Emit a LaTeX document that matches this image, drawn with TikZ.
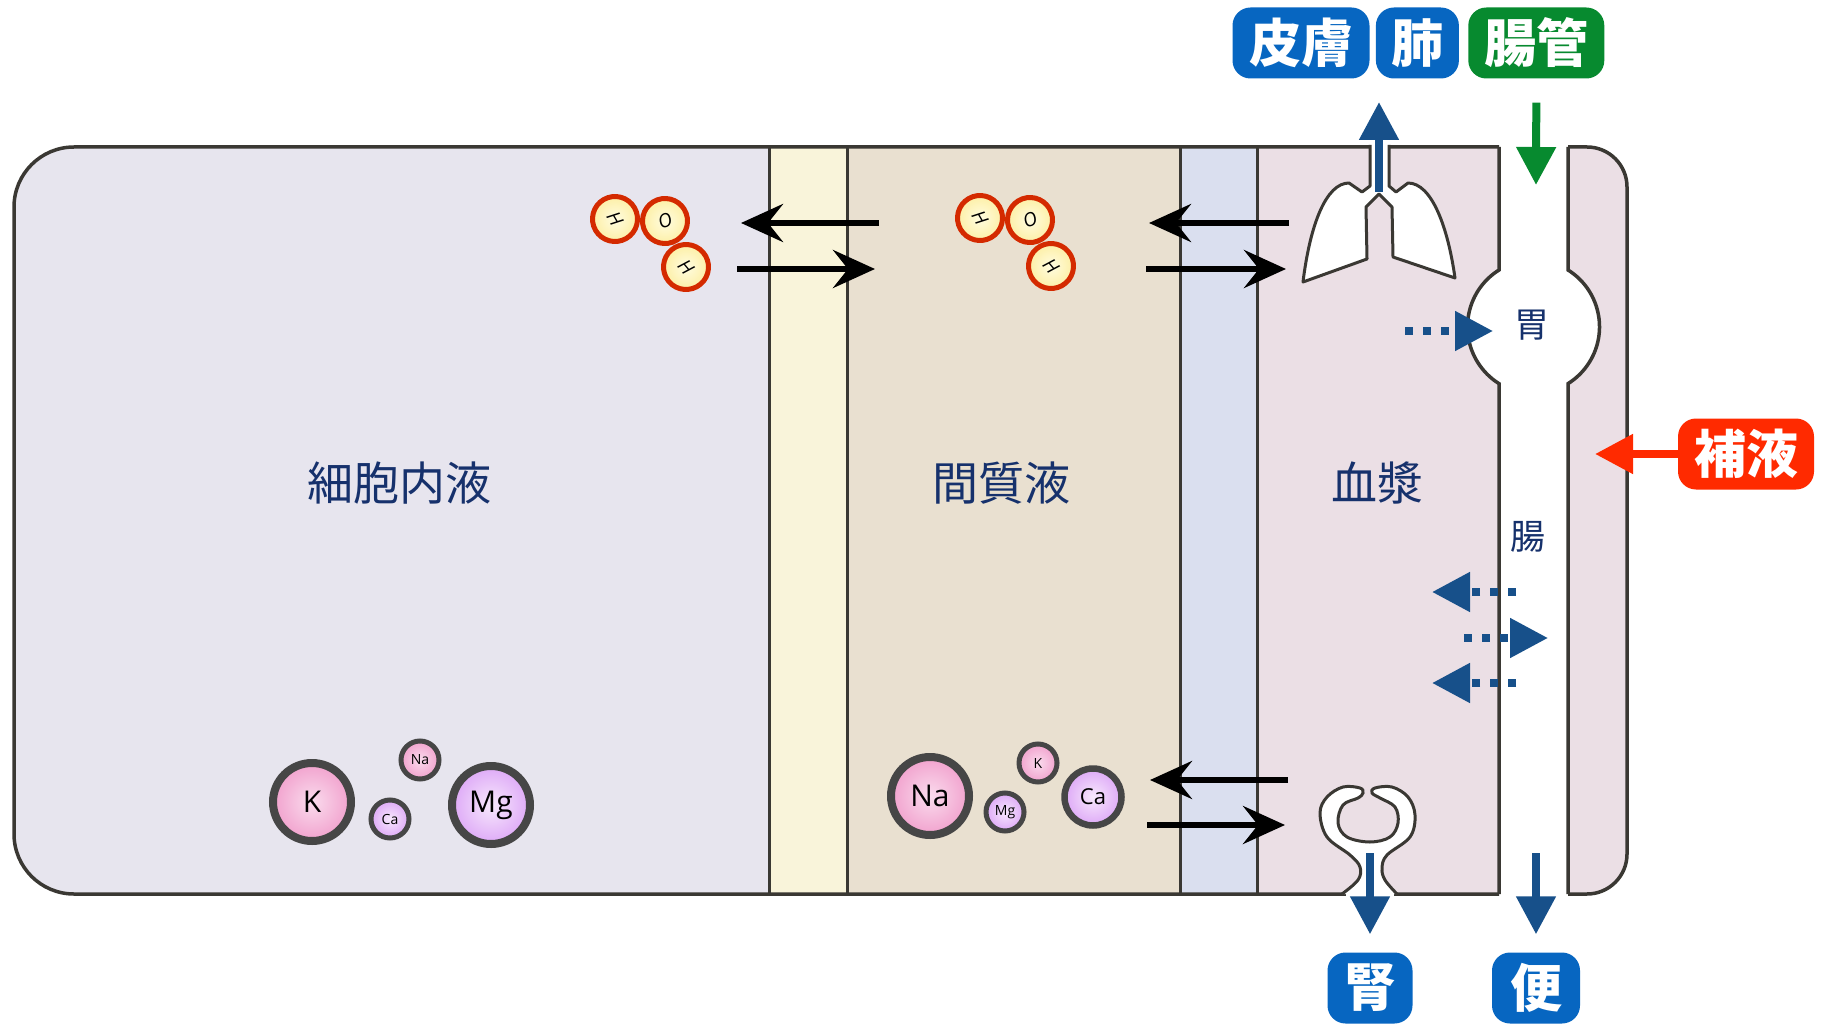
\documentclass[tikz,border=0pt]{standalone}
\usepackage{fontspec}
\setsansfont{Open Sans}
\newfontfamily\jp{Noto Sans CJK JP}
\usepackage{tikz}
\usetikzlibrary{arrows.meta,positioning}

\definecolor{cellbg}{HTML}{E7E5EE}
\definecolor{gapbg}{HTML}{F9F4DA}
\definecolor{isfbg}{HTML}{E9E0D0}
\definecolor{vesbg}{HTML}{DADFEF}
\definecolor{plbg}{HTML}{EBDFE5}
\definecolor{wallc}{HTML}{3A3833}
\definecolor{navy}{HTML}{16316C}
\definecolor{tagblue}{HTML}{0766C1}
\definecolor{taggreen}{HTML}{078A2F}
\definecolor{tagred}{HTML}{FF2A00}
\definecolor{flowblue}{HTML}{17508A}
\definecolor{molred}{HTML}{D42A00}
\definecolor{iongray}{HTML}{464646}

% ball shadings
\pgfdeclareradialshading{ionpink}{\pgfpointorigin}{rgb(0bp)=(0.98,0.86,0.93); rgb(22bp)=(0.95,0.66,0.82); rgb(50bp)=(0.87,0.40,0.64)}
\pgfdeclareradialshading{ionviolet}{\pgfpointorigin}{rgb(0bp)=(0.97,0.91,0.99); rgb(22bp)=(0.88,0.69,0.97); rgb(50bp)=(0.70,0.36,0.88)}
\pgfdeclareradialshading{molyellow}{\pgfpointorigin}{rgb(0bp)=(1,0.99,0.88); rgb(25bp)=(0.99,0.93,0.62); rgb(50bp)=(0.96,0.80,0.32)}

\begin{document}
\begin{tikzpicture}[x=1pt,y=-1pt,>=Latex,node distance=6pt,
 tag/.style={rounded corners=18pt,minimum height=71pt,inner sep=0pt,text=white,font=\jp\bfseries\fontsize{52}{56}\selectfont},
 lbl/.style={text=navy,font=\jp\fontsize{46}{50}\selectfont},
 sublbl/.style={text=navy,font=\jp\fontsize{35}{40}\selectfont},
 ion/.style={circle,draw=iongray,inner sep=0pt,shade},
 ionL/.style={ion,line width=8pt,minimum size=78pt,font=\sffamily\fontsize{30}{32}\selectfont},
 ionM/.style={ion,line width=6.5pt,minimum size=57pt,font=\sffamily\fontsize{22}{24}\selectfont},
 ionS/.style={ion,line width=5pt,minimum size=38pt,font=\sffamily\fontsize{14}{16}\selectfont},
 mol/.style={circle,draw=molred,line width=5pt,minimum size=45pt,inner sep=0pt,shade,shading=molyellow,font=\sffamily\itshape\fontsize{19}{21}\selectfont},
 wall/.style={draw=wallc,line width=3.5pt},
 organ/.style={draw=wallc,line width=3pt,fill=white,line join=round},
 xchg/.style={line width=6pt,-{Stealth[length=42pt,width=38pt,inset=15pt]}},
 flow/.style={draw=flowblue,line width=8pt,-{Triangle[length=38pt,width=38pt]}},
 seep/.style={flow,dash pattern=on 8pt off 10pt}]
\useasboundingbox (0,0) rectangle (1825,1024);

% compartments
\fill[cellbg,rounded corners=60pt] (14,147) rectangle (900,894);
\fill[gapbg] (769,147) rectangle (847,894);
\fill[isfbg] (847,147) rectangle (1180,894);
\fill[vesbg] (1180,147) rectangle (1257,894);
\fill[plbg] (1257,147) rectangle (1499,894);
\fill[plbg,rounded corners=40pt] (1530,147) rectangle (1627,894);
\fill[white] (1499,147) rectangle (1568,894);
\fill[white] (1533.5,327) circle[radius=67];

\draw[wall,rounded corners=60pt] (1499,147) -- (14,147) -- (14,894) -- (1499,894);
\foreach \x in {769,847,1180,1257}
  \draw[wall,line width=3pt] (\x,147) -- (\x,894);
\draw[wall] (1499,147) -- (1499,270) arc[start angle=238,end angle=122,radius=67] -- (1499,894);
\draw[wall] (1568,147) -- (1568,270) arc[start angle=-58,end angle=58,radius=67] -- (1568,894);
\draw[wall,rounded corners=40pt] (1568,147) -- (1627,147) -- (1627,894) -- (1568,894);

% lungs
\fill[white] (1371,143) rectangle (1388,150);
\path[organ] (1389,145) -- (1389,186) -- (1396,192) -- (1408,183)
  .. controls (1432,183) and (1448,228) .. (1455,278) -- (1393,257) -- (1392,207)
  -- (1379,194) -- (1366,207) -- (1367,259) -- (1303,282)
  .. controls (1310,225) and (1326,183) .. (1349,183) -- (1362,192) -- (1370,186) -- (1370,145);

% kidney
\fill[white] (1346,889) rectangle (1394,898);
\fill[white] plot[smooth,tension=0.6] coordinates {(1342,894) (1358,880) (1360,867) (1350,855) (1327,837) (1320,813) (1327,797) (1343,787) (1360,788) (1363,793) (1358,798) (1343,805) (1338,823) (1347,837) (1370,842) (1390,837) (1398,823) (1395,807) (1380,798) (1372,793) (1375,788) (1392,787) (1408,797) (1415,815) (1410,837) (1387,855) (1382,868) (1385,880) (1397,894)} -- cycle;
\draw[wallc,line width=3pt] plot[smooth,tension=0.6] coordinates {(1342,894) (1358,880) (1360,867) (1350,855) (1327,837) (1320,813) (1327,797) (1343,787) (1360,788) (1363,793) (1358,798) (1343,805) (1338,823) (1347,837) (1370,842) (1390,837) (1398,823) (1395,807) (1380,798) (1372,793) (1375,788) (1392,787) (1408,797) (1415,815) (1410,837) (1387,855) (1382,868) (1385,880) (1397,894)};

% compartment names
\node[lbl] (icf) at (399,483) {細胞内液};
\node[lbl] (isf) at (1001,483) {間質液};
\node[lbl] (pls) at (1377,483) {血漿};
\node[sublbl] (stom) at (1532,325) {胃};
\node[sublbl] (bowel) at (1528,537) {腸};

% water
\node[mol,rotate=-60] (h1) at (615,219) {H};
\node[mol,rotate=20] (o1) at (665,221) {O};
\node[mol,rotate=-50] (h2) at (686,267) {H};
\node[mol,rotate=-60] (h3) at (980,218) {H};
\node[mol,rotate=20] (o2) at (1030,220) {O};
\node[mol,rotate=-50] (h4) at (1051,266) {H};

% electrolytes
\node[ionL,shading=ionpink] (k1) at (312,802) {K};
\node[ionS,shading=ionpink] (na1) at (420,760) {Na};
\node[ionS,shading=ionviolet] (ca1) at (390,819) {Ca};
\node[ionL,shading=ionviolet] (mg1) at (491,805) {Mg};
\node[ionL,shading=ionpink] (na2) at (930,796) {Na};
\node[ionS,shading=ionpink] (k2) at (1038,763) {K};
\node[ionS,shading=ionviolet] (mg2) at (1005,812) {Mg};
\node[ionM,shading=ionviolet] (ca2) at (1093,797) {Ca};

% exchange across membranes
\coordinate (c1) at (879,223); \coordinate (c2) at (741,223);
\coordinate (c3) at (737,269); \coordinate (c4) at (875,269);
\coordinate (c5) at (1289,223); \coordinate (c6) at (1149,223);
\coordinate (c7) at (1146,269); \coordinate (c8) at (1286,269);
\coordinate (c9) at (1288,780); \coordinate (c10) at (1150,780);
\coordinate (c11) at (1147,825); \coordinate (c12) at (1285,825);
\draw[xchg] (c1) -- (c2); \draw[xchg] (c3) -- (c4);
\draw[xchg] (c5) -- (c6); \draw[xchg] (c7) -- (c8);
\draw[xchg] (c9) -- (c10); \draw[xchg] (c11) -- (c12);

% in and out
\node[tag,fill=tagblue,minimum width=137pt] (skin) at (1301,43) {皮膚};
\node[tag,fill=tagblue,minimum width=83pt,right=6pt of skin] (lung) {肺};
\node[tag,fill=taggreen,minimum width=136pt,right=9pt of lung] (gut) {腸管};
\node[tag,fill=tagblue,minimum width=85pt] (kid) at (1370,988) {腎};
\node[tag,fill=tagblue,minimum width=88pt] (stool) at (1536,988) {便};
\node[tag,fill=tagred,minimum width=136pt] (iv) at (1746,454) {補液};

\coordinate (trachea) at (1379,192);
\coordinate (breath) at (1379,102);
\coordinate (gutin) at (1536,185);
\coordinate (urine) at (1370,853);
\coordinate (rectum) at (1536,853);
\coordinate (ivin) at (1595,454);
\draw[flow] (trachea) -- (breath);
\draw[flow,draw=taggreen] ([yshift=-24pt]gut.south) -- (gutin);
\draw[flow] (urine) -- ([yshift=18pt]kid.north);
\draw[flow] (rectum) -- ([yshift=18pt]stool.north);
\draw[flow,draw=tagred] (iv.west) -- (ivin);

% leakage to and from the gut
\coordinate (s1) at (1405,331); \coordinate (s2) at (1493,331);
\coordinate (s3) at (1516,592); \coordinate (s4) at (1432,592);
\coordinate (s5) at (1464,638); \coordinate (s6) at (1548,638);
\coordinate (s7) at (1516,683); \coordinate (s8) at (1432,683);
\draw[seep] (s1) -- (s2);
\draw[seep] (s3) -- (s4);
\draw[seep] (s5) -- (s6);
\draw[seep] (s7) -- (s8);
\end{tikzpicture}
\end{document}
